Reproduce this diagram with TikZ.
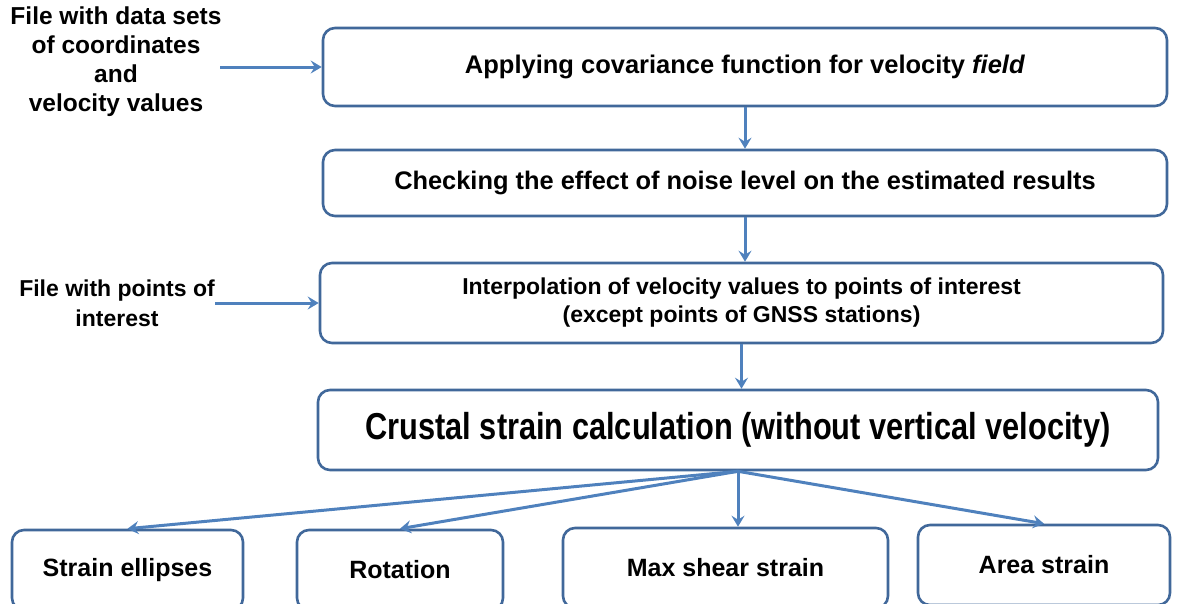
\documentclass[tikz,border=0pt]{standalone}
\usepackage{fontspec}
\setmainfont{Liberation Sans}
\usepackage{graphicx}
\usetikzlibrary{arrows.meta}
\definecolor{boxline}{HTML}{41689A}
\definecolor{arrowcol}{HTML}{4F81BD}
\begin{document}
\begin{tikzpicture}[x=1pt,y=-1pt,
  box/.style={draw=boxline,line width=2.6pt,rounded corners=12pt,fill=white,inner sep=0pt,font=\bfseries},
  conn/.style={draw=arrowcol,line width=3pt,-{Stealth[length=11pt,width=13pt,inset=4pt]}},
  lbl/.style={font=\bfseries,align=center,inner sep=0pt}]
\useasboundingbox (0,0) rectangle (1177,603);
\clip (0,0) rectangle (1177,603);
% main boxes
\node[box,minimum width=844pt,minimum height=78pt,font=\bfseries\fontsize{25.5}{30}\selectfont] (b1) at (745,67) {Applying covariance function for velocity \textit{field}};
\node[box,minimum width=844pt,minimum height=66pt,font=\bfseries\fontsize{25.4}{30}\selectfont] (b2) at (745,183) {Checking the effect of noise level on the estimated results};
\node[box,minimum width=843pt,minimum height=80pt,align=center,font=\bfseries\fontsize{23}{28}\selectfont] (b3) at (741.5,303) {Interpolation of velocity values to points of interest\\(except points of GNSS stations)};
\node[box,minimum width=840pt,minimum height=80pt] (b4) at (738,430) {\scalebox{0.82}[1]{\fontsize{37.5}{40}\selectfont Crustal strain calculation (without vertical velocity)}};
% bottom boxes
\node[box,minimum width=231pt,minimum height=80pt,font=\bfseries\fontsize{25}{30}\selectfont] (se) at (127.5,570) {Strain ellipses};
\node[box,minimum width=206pt,minimum height=80pt,font=\bfseries\fontsize{25}{30}\selectfont] (ro) at (400,570) {Rotation};
\node[box,minimum width=325pt,minimum height=80pt,font=\bfseries\fontsize{25}{30}\selectfont] (ms) at (725.5,568) {\raisebox{-5pt}{Max shear strain}};
\node[box,minimum width=252pt,minimum height=80pt,font=\bfseries\fontsize{25}{30}\selectfont] (as) at (1044,565) {Area strain};
% left labels
\node[lbl,font=\bfseries\fontsize{24.5}{29}\selectfont] (f1) at (116,62) {File with data sets\\of coordinates\\and\\velocity values};
\node[lbl,font=\bfseries\fontsize{23}{30}\selectfont] (f2) at (117,303) {File with points of\\interest};
\coordinate (f1e) at (220,67);
\coordinate (f2e) at (215,303);
% connectors
\draw[conn] (f1e) -- (b1.west |- f1e);
\draw[conn] (f2e) -- (b3.west |- f2e);
\draw[conn] (b1.south) -- (b2.north);
\draw[conn] (b2.south) -- (b2.south |- b3.north);
\draw[conn] (b3.south) -- (b3.south |- b4.north);
\draw[conn] (b4.south) -- (se.north);
\draw[conn] (b4.south) -- (ro.north);
\draw[conn] (b4.south) -- (b4.south |- ms.north);
\draw[conn] (b4.south) -- (as.north);
\end{tikzpicture}
\end{document}
